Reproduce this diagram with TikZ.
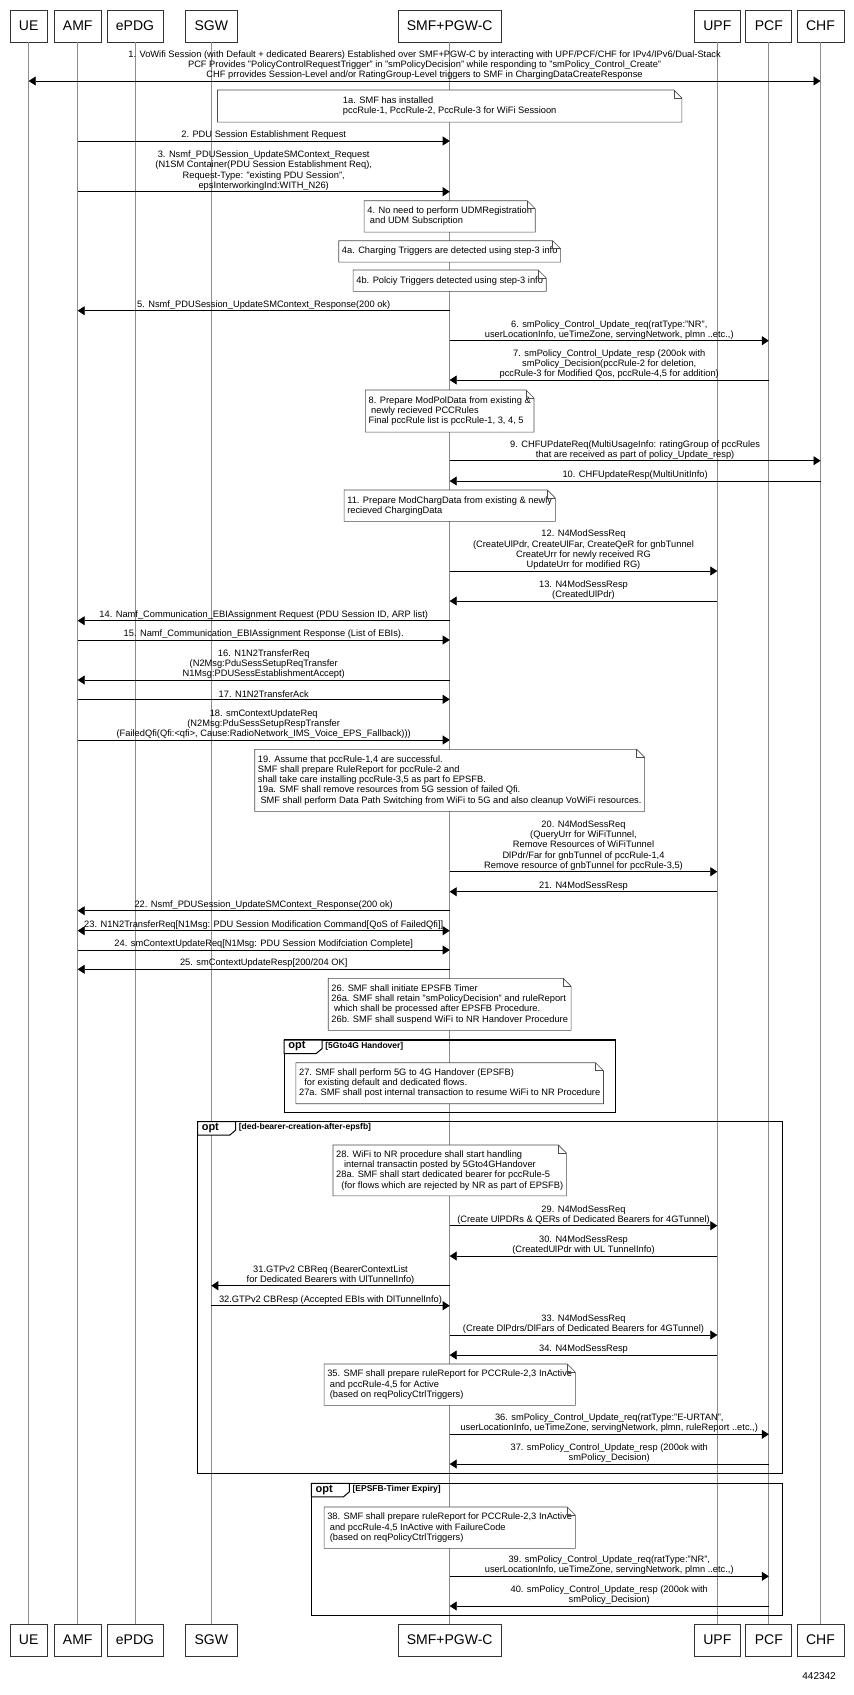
\documentclass[tikz,border=0pt]{standalone}
\usepackage{fontspec}
\setmainfont{Liberation Sans}
\usetikzlibrary{arrows.meta,calc}
\newcommand{\seqmsg}[6][msg]{%
  \draw[#1] (#3 |- 0,#5) -- (#4 |- 0,#5) node[mlbl, midway] (#2) {#6};}
\newcommand{\seqnote}[5]{%
  \node[note, minimum height=#3pt, #4] (#1) at (smfT |- 0,#2) {#5};
  \draw[notebd] (#1.north west) -- ([xshift=-8pt]#1.north east) -- ([yshift=-8pt]#1.north east) -- (#1.south east) -- (#1.south west) -- cycle;
  \draw[notebd] ([xshift=-8pt]#1.north east) -- ([xshift=-8pt,yshift=-8pt]#1.north east) -- ([yshift=-8pt]#1.north east);}
\newcommand{\lsp}{\hspace*{2.6pt}}
\newcommand{\optframe}[6]{% name x1 y1 x2 y2 guard
  \draw[frame] (#2,#3) rectangle (#4,#5);
  \draw[tab] (#2,#3) -- ++(38,0) -- ++(0,8.5) -- ++(-6,5) -- (#2,#3+13.5) -- cycle;
  \node[tablbl, anchor=west] (#1) at (#2+4,#3+6.5) {opt};
  \node[guard] (#1g) at (#2+41,#3+6) {#6};}
\tikzset{
  actor/.style={draw=black!80, line width=0.7pt, minimum height=32pt, inner xsep=9pt, font=\fontsize{14}{16}\selectfont, fill=white},
  life/.style={draw=black!45, line width=0.8pt},
  msg/.style={draw=black, line width=0.7pt, arrows={-Triangle[length=7pt,width=9pt]}},
  bimsg/.style={draw=black, line width=0.7pt, arrows={Triangle[length=7pt,width=9pt]-Triangle[length=7pt,width=9pt]}},
  mlbl/.style={font=\fontsize{9.3}{10.2}\selectfont, align=center, inner sep=1.2pt, anchor=south},
  note/.style={fill=white, font=\fontsize{9.3}{10.2}\selectfont, align=left, inner xsep=3pt, inner ysep=0pt, anchor=north},
  notebd/.style={draw=black!70, line width=0.6pt},
  frame/.style={draw=black, line width=1.4pt},
  tab/.style={draw=black, line width=1pt, fill=white},
  tablbl/.style={font=\bfseries\fontsize{11}{12}\selectfont, inner sep=0pt},
  guard/.style={font=\bfseries\fontsize{8.5}{10}\selectfont, inner sep=0pt, anchor=west},
}
\begin{document}
\begin{tikzpicture}[x=1pt,y=-1pt]
\fill[white] (0,0) rectangle (854,1695);
\useasboundingbox (0,0) rectangle (854,1695);
% actors top
\foreach \n/\x/\t in {ue/28.7/UE, amf/77.7/AMF, epdg/135/ePDG, sgw/211.3/SGW, smf/449.7/SMF+PGW-C, upf/717.3/UPF, pcf/768.8/PCF, chf/820.5/CHF}{
  \node[actor] (\n T) at (\x,26) {\t};
  \node[actor] (\n B) at (\x,1640) {\t};
  \draw[life] (\n T.south) -- (\n B.north);
}
% frames
\optframe{opt1}{284.2}{1040}{615.3}{1112.3}{[5Gto4G Handover]}
\optframe{opt2}{197.6}{1121.7}{782.4}{1473.3}{[ded-bearer-creation-after-epsfb]}
\optframe{opt3}{311.4}{1483.3}{782.4}{1615.3}{[EPSFB-Timer Expiry]}
% messages
\seqmsg[bimsg]{m1}{ueT}{chfT}{81}{1. VoWifi Session (with Default + dedicated Bearers) Established over SMF+PGW-C by interacting with UPF/PCF/CHF for IPv4/IPv6/Dual-Stack\\PCF Provides "PolicyControlRequestTrigger" in "smPolicyDecision" while responding to "smPolicy\_Control\_Create"\\CHF prrovides Session-Level and/or RatingGroup-Level triggers to SMF in ChargingDataCreateResponse}
\seqnote{n1a}{90}{31.7}{minimum width=464pt}{1a. SMF has installed\\pccRule-1, PccRule-2, PccRule-3 for WiFi Sessioon}
\seqmsg{m2}{amfT}{smfT}{141}{2. PDU Session Establishment Request}
\seqmsg{m3}{amfT}{smfT}{191.7}{3. Nsmf\_PDUSession\_UpdateSMContext\_Request\\(N1SM Container(PDU Session Establishment Req),\\Request-Type: "existing PDU Session",\\epsInterworkingInd:WITH\_N26)}
\seqnote{n4}{200.7}{31}{}{4. No need to perform UDMRegistration\\\lsp and UDM Subscription}
\seqnote{n4a}{240.7}{21}{}{4a. Charging Triggers are detected using step-3 info}
\seqnote{n4b}{270}{21}{}{4b. Polciy Triggers detected using step-3 info}
\seqmsg{m5}{smfT}{amfT}{310.7}{5. Nsmf\_PDUSession\_UpdateSMContext\_Response(200 ok)}
\seqmsg{m6}{smfT}{pcfT}{340.7}{6. smPolicy\_Control\_Update\_req(ratType:"NR",\\userLocationInfo, ueTimeZone, servingNetwork, plmn ..etc.,)}
\seqmsg{m7}{pcfT}{smfT}{380}{7. smPolicy\_Control\_Update\_resp (200ok with\\smPolicy\_Decision(pccRule-2 for deletion,\\pccRule-3 for Modified Qos, pccRule-4,5 for addition)}
\seqnote{n8}{390}{41.7}{}{8. Prepare ModPolData from existing \&\\\lsp newly recieved PCCRules\\Final pccRule list is pccRule-1, 3, 4, 5}
\seqmsg{m9}{smfT}{chfT}{460.7}{9. CHFUPdateReq(MultiUsageInfo: ratingGroup of pccRules\\that are received as part of policy\_Update\_resp)}
\seqmsg{m10}{chfT}{smfT}{481}{10. CHFUpdateResp(MultiUnitInfo)}
\seqnote{n11}{490}{31}{}{11. Prepare ModChargData from existing \& newly\\recieved ChargingData}
\seqmsg{m12}{smfT}{upfT}{571}{12. N4ModSessReq\\(CreateUlPdr, CreateUlFar, CreateQeR for gnbTunnel\\CreateUrr for newly received RG\\UpdateUrr for modified RG)}
\seqmsg{m13}{upfT}{smfT}{601}{13. N4ModSessResp\\(CreatedUlPdr)}
\seqmsg{m14}{smfT}{amfT}{620.7}{14. Namf\_Communication\_EBIAssignment Request (PDU Session ID, ARP list)}
\seqmsg{m15}{amfT}{smfT}{640}{15. Namf\_Communication\_EBIAssignment Response (List of EBIs).}
\seqmsg{m16}{smfT}{amfT}{680}{16. N1N2TransferReq\\(N2Msg:PduSessSetupReqTransfer\\N1Msg:PDUSessEstablishmentAccept)}
\seqmsg{m17}{amfT}{smfT}{699.3}{17. N1N2TransferAck}
\seqmsg{m18}{amfT}{smfT}{740}{18. smContextUpdateReq\\(N2Msg:PduSessSetupRespTransfer\\(FailedQfi(Qfi:<qfi>, Cause:RadioNetwork\_IMS\_Voice\_EPS\_Fallback)))}
\seqnote{n19}{749.3}{61.7}{}{19. Assume that pccRule-1,4 are successful.\\SMF shall prepare RuleReport for pccRule-2 and\\shall take care installing pccRule-3,5 as part fo EPSFB.\\19a. SMF shall remove resources from 5G session of failed Qfi.\\\lsp SMF shall perform Data Path Switching from WiFi to 5G and also cleanup VoWiFi resources.}
\seqmsg{m20}{smfT}{upfT}{871.7}{20. N4ModSessReq\\(QueryUrr for WiFiTunnel,\\Remove Resources of WiFiTunnel\\DlPdr/Far for gnbTunnel of pccRule-1,4\\Remove resource of gnbTunnel for pccRule-3,5)}
\seqmsg{m21}{upfT}{smfT}{891.7}{21. N4ModSessResp}
\seqmsg{m22}{smfT}{amfT}{910.7}{22. Nsmf\_PDUSession\_UpdateSMContext\_Response(200 ok)}
\seqmsg[bimsg]{m23}{amfT}{smfT}{930.7}{23. N1N2TransferReq[N1Msg: PDU Session Modification Command[QoS of FailedQfi]]}
\seqmsg{m24}{amfT}{smfT}{950}{24. smContextUpdateReq[N1Msg: PDU Session Modifciation Complete]}
\seqmsg{m25}{smfT}{amfT}{969.3}{25. smContextUpdateResp[200/204 OK]}
\seqnote{n26}{978.3}{51.7}{}{26. SMF shall initiate EPSFB Timer\\26a. SMF shall retain "smPolicyDecision" and ruleReport\\\lsp which shall be processed after EPSFB Procedure.\\26b. SMF shall suspend WiFi to NR Handover Procedure}
\seqnote{n27}{1062.7}{40.6}{}{27. SMF shall perform 5G to 4G Handover (EPSFB)\\\lsp\lsp for existing default and dedicated flows.\\27a. SMF shall post internal transaction to resume WiFi to NR Procedure}
\seqnote{n28}{1145}{50.5}{}{28. WiFi to NR procedure shall start handling\\\lsp\lsp\lsp internal transactin posted by 5Gto4GHandover\\28a. SMF shall start dedicated bearer for pccRule-5\\\lsp\lsp (for flows which are rejected by NR as part of EPSFB)}
\seqmsg{m29}{smfT}{upfT}{1225.7}{29. N4ModSessReq\\(Create UlPDRs \& QERs of Dedicated Bearers for 4GTunnel)}
\seqmsg{m30}{upfT}{smfT}{1256}{30. N4ModSessResp\\(CreatedUlPdr with UL TunnelInfo)}
\seqmsg{m31}{smfT}{sgwT}{1285.7}{31.GTPv2 CBReq (BearerContextList\\for Dedicated Bearers with UlTunnelInfo)}
\seqmsg{m32}{sgwT}{smfT}{1305.7}{32.GTPv2 CBResp (Accepted EBIs with DlTunnelInfo)}
\seqmsg{m33}{smfT}{upfT}{1335}{33. N4ModSessReq\\(Create DlPdrs/DlFars of Dedicated Bearers for 4GTunnel)}
\seqmsg{m34}{upfT}{smfT}{1355}{34. N4ModSessResp}
\seqnote{n35}{1364}{41}{}{35. SMF shall prepare ruleReport for PCCRule-2,3 InActive\\\lsp and pccRule-4,5 for Active\\\lsp (based on reqPolicyCtrlTriggers)}
\seqmsg{m36}{smfT}{pcfT}{1434.3}{36. smPolicy\_Control\_Update\_req(ratType:"E-URTAN",\\userLocationInfo, ueTimeZone, servingNetwork, plmn, ruleReport ..etc.,)}
\seqmsg{m37}{pcfT}{smfT}{1464}{37. smPolicy\_Control\_Update\_resp (200ok with\\smPolicy\_Decision)}
\seqnote{n38}{1507}{41}{}{38. SMF shall prepare ruleReport for PCCRule-2,3 InActive\\\lsp and pccRule-4,5 InActive with FailureCode\\\lsp (based on reqPolicyCtrlTriggers)}
\seqmsg{m39}{smfT}{pcfT}{1576.3}{39. smPolicy\_Control\_Update\_req(ratType:"NR",\\userLocationInfo, ueTimeZone, servingNetwork, plmn ..etc.,)}
\seqmsg{m40}{pcfT}{smfT}{1606}{40. smPolicy\_Control\_Update\_resp (200ok with\\smPolicy\_Decision)}
\node[font=\fontsize{10}{12}\selectfont, anchor=east, inner sep=0pt] (fignum) at (836,1676) {442342};
\end{tikzpicture}
\end{document}
